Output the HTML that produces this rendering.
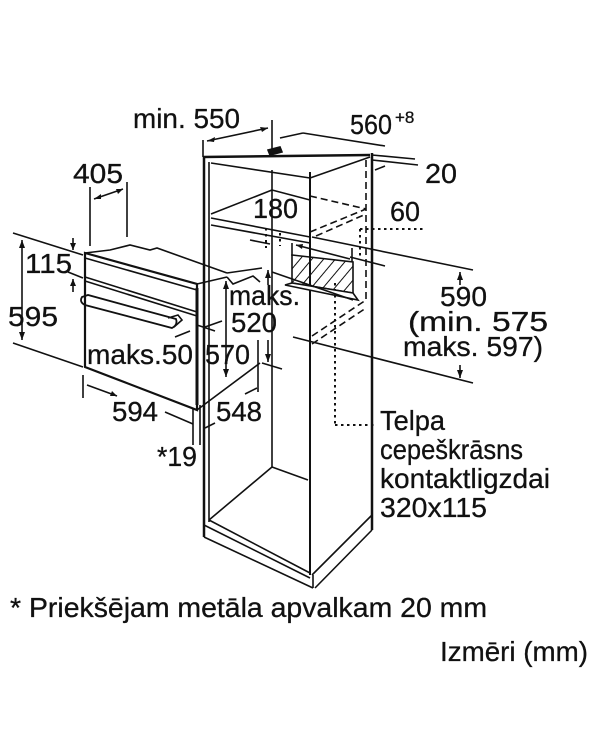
<!DOCTYPE html>
<html><head><meta charset="utf-8"><style>
html,body{margin:0;padding:0;background:#fff;}
svg{display:block;}
text{font-family:"Liberation Sans",sans-serif;font-size:28px;fill:#111;stroke:#111;stroke-width:0.3;}
</style></head><body>
<svg width="600" height="741" viewBox="0 0 600 741" xmlns="http://www.w3.org/2000/svg">
<defs>
<pattern id="h" width="9" height="9" patternUnits="userSpaceOnUse" patternTransform="rotate(40)">
<line x1="0" y1="0" x2="0" y2="9" stroke="#111" stroke-width="2"/></pattern>
</defs>
<g stroke="#111" fill="none" stroke-width="1.6">
<!-- cabinet -->
<line x1="204" y1="157" x2="204" y2="537" stroke-width="2.5"/>
<line x1="209" y1="162" x2="209" y2="522"/>
<line x1="310" y1="172" x2="310" y2="575" stroke-width="2"/>
<line x1="313" y1="575" x2="313" y2="588"/>
<line x1="372" y1="153" x2="372" y2="530" stroke-width="2.5"/>
<line x1="272" y1="170" x2="272" y2="468"/>
<line x1="203" y1="157" x2="370" y2="155" stroke-width="2.5"/>
<line x1="211" y1="163" x2="310" y2="178"/>
<line x1="310" y1="178" x2="370" y2="157"/>
<path d="M268 150 L280 147 L282 152 L270 155 Z" fill="#111"/>
<!-- shelf -->
<line x1="211" y1="214" x2="272" y2="190"/>
<line x1="272" y1="190" x2="310" y2="200"/>
<line x1="211" y1="218" x2="310" y2="237"/>
<line x1="211" y1="225" x2="310" y2="243"/>
<!-- bottom -->
<line x1="209" y1="520" x2="272" y2="467"/>
<line x1="272" y1="467" x2="308" y2="480"/>
<line x1="209" y1="520" x2="310" y2="573"/>
<line x1="204" y1="525" x2="310" y2="578"/>
<line x1="204" y1="537" x2="313" y2="588"/>
<line x1="312" y1="575" x2="372" y2="515"/>
<line x1="315" y1="588" x2="372" y2="530"/>
<!-- dashed -->
<g stroke-dasharray="7,4">
<line x1="366" y1="160" x2="366" y2="300"/>
<line x1="310" y1="196" x2="366" y2="209"/>
<line x1="310" y1="232" x2="366" y2="209"/>
<line x1="316" y1="236" x2="366" y2="214"/>
<line x1="312" y1="336" x2="366" y2="300"/>
<line x1="312" y1="344" x2="366" y2="308"/>
</g>
<!-- dotted -->
<g stroke-dasharray="2.5,3.5" stroke-width="2">
<line x1="360" y1="229" x2="423" y2="229"/>
<line x1="360" y1="229" x2="360" y2="260"/>
<line x1="335" y1="283" x2="335" y2="425"/>
<line x1="335" y1="425" x2="375" y2="425"/>
<line x1="266" y1="228" x2="266" y2="248"/>
<line x1="280" y1="233" x2="280" y2="246"/>
</g>
<!-- hatched box -->
<path d="M292 255 L353 262 L353 293 L292 283 Z" fill="url(#h)"/>
<path d="M285 285 L292 283 L353 293 L358 300 Z" fill="#fff"/>
<line x1="272" y1="272" x2="353" y2="300"/>
<!-- 180/60 dims -->
<line x1="292" y1="243" x2="292" y2="256"/>
<line x1="352" y1="248" x2="352" y2="262"/>
<line x1="296" y1="245" x2="350" y2="259"/>
<line x1="250" y1="240" x2="270" y2="244"/>
<line x1="350" y1="257" x2="385" y2="266"/>
<!-- 590 dims -->
<line x1="312" y1="237" x2="473" y2="270"/>
<line x1="293" y1="337" x2="473" y2="383"/>
<line x1="460" y1="272" x2="460" y2="285"/>
<line x1="460" y1="365" x2="460" y2="378"/>
<!-- 560 / 20 -->
<line x1="280" y1="138" x2="303" y2="133"/>
<line x1="303" y1="133" x2="385" y2="146"/>
<line x1="372" y1="155" x2="415" y2="159"/>
<line x1="372" y1="160" x2="418" y2="165"/>
<line x1="375" y1="170" x2="385" y2="166"/>
<!-- min 550 -->
<line x1="203" y1="140" x2="203" y2="157"/>
<line x1="272" y1="120" x2="272" y2="150"/>
<line x1="207" y1="141" x2="268" y2="128"/>
<!-- oven -->
<path d="M85 253 L197 284 L197 410 L85 367 Z" stroke-width="2.2"/>
<path d="M85 253 L110 250 L130 245 L150 250 L157 248 L227 273"/>
<line x1="85" y1="258" x2="197" y2="290"/>
<line x1="197" y1="284" x2="227" y2="277"/>
<path d="M227 277 L233 284 L253 276 L260 282"/>
<line x1="227" y1="273" x2="262" y2="268"/>
<line x1="85" y1="277" x2="197" y2="312"/>
<line x1="85" y1="281" x2="197" y2="316"/>
<path d="M82 297 Q79 302 85 305 L172 328 Q178 325 176 319 L88 295 Z" stroke-width="1.8"/>
<path d="M168 318 L178 315 L182 320 L174 327"/>
<line x1="197" y1="410" x2="260" y2="363"/>
<line x1="197" y1="288" x2="197" y2="405" stroke-width="3"/>
<!-- oven dims -->
<line x1="90" y1="187" x2="90" y2="246"/>
<line x1="127" y1="182" x2="127" y2="237"/>
<line x1="94" y1="199" x2="123" y2="189"/>
<line x1="13" y1="233" x2="83" y2="255"/>
<line x1="68" y1="272" x2="83" y2="278"/>
<line x1="13" y1="343" x2="83" y2="367"/>
<line x1="73" y1="238" x2="73" y2="250"/>
<line x1="73" y1="279" x2="73" y2="292"/>
<line x1="22" y1="240" x2="22" y2="340"/>
<line x1="83" y1="375" x2="83" y2="398"/>
<line x1="87" y1="385" x2="117" y2="396"/>
<line x1="165" y1="412" x2="193" y2="424"/>
<line x1="193" y1="408" x2="193" y2="445"/>
<line x1="200" y1="405" x2="200" y2="445"/>
<line x1="205" y1="428" x2="215" y2="423"/>
<line x1="258" y1="340" x2="258" y2="392"/>
<line x1="245" y1="394" x2="257" y2="388"/>
<line x1="226" y1="281" x2="226" y2="377"/>
<line x1="268" y1="270" x2="268" y2="285"/>
<line x1="268" y1="340" x2="268" y2="362"/>
<line x1="262" y1="363" x2="282" y2="369"/>
<line x1="205" y1="327" x2="222" y2="321"/>
<line x1="197" y1="325" x2="215" y2="331"/>
<line x1="175" y1="337" x2="190" y2="331"/>
</g>
<!-- arrowheads -->
<g fill="#111">
<path d="M268 128 l-8 -1 l2 5z"/><path d="M207 141 l8 -4 l-1 5z"/>
<path d="M94 199 l7 -5 l0 5z"/><path d="M123 189 l-7 0 l2 5z"/>
<path d="M73 250 l-3 -7 l6 0z"/><path d="M73 279 l-3 7 l6 0z"/>
<path d="M22 240 l-3 8 l6 0z"/><path d="M22 340 l-3 -8 l6 0z"/>
<path d="M226 281 l-3 8 l6 0z"/><path d="M226 377 l-3 -8 l6 0z"/>
<path d="M460 272 l-3 8 l6 0z"/><path d="M460 378 l-3 -8 l6 0z"/>
<path d="M268 362 l-3 -8 l6 0z"/><path d="M268 270 l-3 8 l6 0z"/>
<path d="M296 245 l7 -1 l-1 5z"/><path d="M117 396 l-7 0 l2 -5z"/>
</g>
<!-- text -->
<text x="133" y="128" textLength="107" lengthAdjust="spacingAndGlyphs">min. 550</text>
<text x="350" y="134" textLength="42" lengthAdjust="spacingAndGlyphs">560</text><text x="395" y="123" style="font-size:17px">+8</text>
<text x="425" y="183" textLength="32" lengthAdjust="spacingAndGlyphs">20</text>
<text x="73" y="183" textLength="50" lengthAdjust="spacingAndGlyphs">405</text>
<text x="253" y="218" textLength="45" lengthAdjust="spacingAndGlyphs">180</text>
<text x="390" y="221" textLength="30" lengthAdjust="spacingAndGlyphs">60</text>
<text x="25" y="273" textLength="47" lengthAdjust="spacingAndGlyphs">115</text>
<text x="8" y="326" textLength="50" lengthAdjust="spacingAndGlyphs">595</text>
<text x="229" y="305" textLength="71" lengthAdjust="spacingAndGlyphs">maks.</text>
<text x="231" y="332" textLength="46" lengthAdjust="spacingAndGlyphs">520</text>
<text x="440" y="306" textLength="47" lengthAdjust="spacingAndGlyphs">590</text>
<text x="408" y="331" textLength="140" lengthAdjust="spacingAndGlyphs">(min. 575</text>
<text x="403" y="356" textLength="140" lengthAdjust="spacingAndGlyphs">maks. 597)</text>
<text x="87" y="364" textLength="106" lengthAdjust="spacingAndGlyphs">maks.50</text>
<text x="205" y="364" textLength="45" lengthAdjust="spacingAndGlyphs">570</text>
<text x="112" y="421" textLength="46" lengthAdjust="spacingAndGlyphs">594</text>
<text x="216" y="421" textLength="46" lengthAdjust="spacingAndGlyphs">548</text>
<text x="157" y="466" textLength="40" lengthAdjust="spacingAndGlyphs">*19</text>
<text x="380" y="430" textLength="65" lengthAdjust="spacingAndGlyphs">Telpa</text>
<text x="380" y="459" textLength="143" lengthAdjust="spacingAndGlyphs">cepeškrāsns</text>
<text x="380" y="488" textLength="170" lengthAdjust="spacingAndGlyphs">kontaktligzdai</text>
<text x="380" y="517" textLength="107" lengthAdjust="spacingAndGlyphs">320x115</text>
<text x="10" y="617" textLength="477" lengthAdjust="spacingAndGlyphs">* Priekšējam metāla apvalkam 20 mm</text>
<text x="440" y="661" textLength="148" lengthAdjust="spacingAndGlyphs">Izmēri (mm)</text>
</svg>
</body></html>
